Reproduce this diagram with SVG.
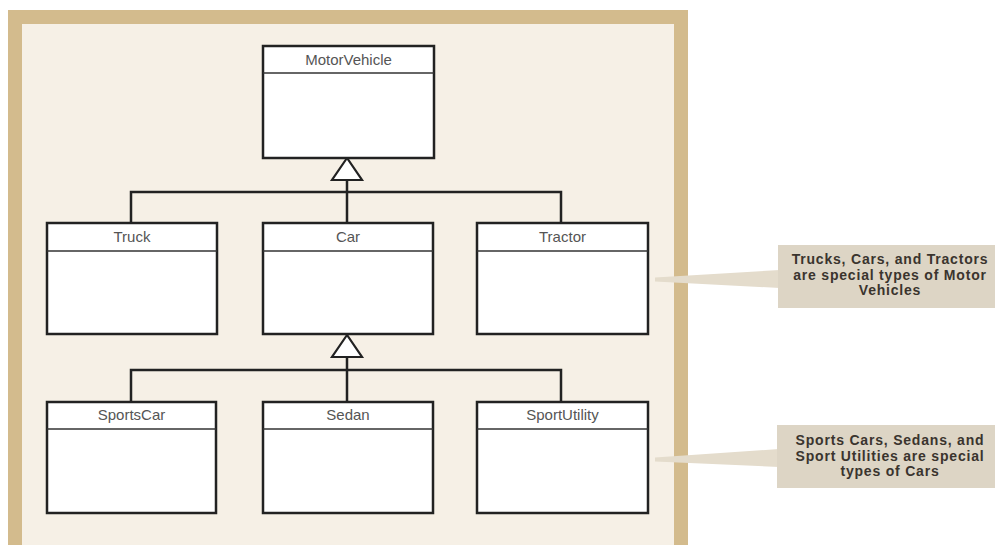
<svg xmlns="http://www.w3.org/2000/svg" width="995" height="545" viewBox="0 0 995 545">
  <style>
    .frame { fill: #f6f0e6; stroke: #d3bb8d; stroke-width: 14; }
    .box { fill: #ffffff; stroke: #222222; stroke-width: 2.5; }
    .divider { stroke: #333333; stroke-width: 1.6; }
    .name { font-family: "Liberation Sans", Arial, sans-serif; font-size: 15px; fill: #555555; text-anchor: middle; }
    .link { fill: none; stroke: #222222; stroke-width: 2.5; }
    .head { fill: #ffffff; stroke: #222222; stroke-width: 2.2; stroke-linejoin: miter; }
    .note { fill: #ddd5c5; }
    .pointer { fill: #e4dccc; }
    .note-text { font-family: "Liberation Sans", Arial, sans-serif; font-size: 14px; font-weight: bold; letter-spacing: 0.8px; fill: #3a342e; text-anchor: middle; }
  </style>

  <rect width="995" height="545" fill="#ffffff"/>
  <!-- outer frame -->
  <rect class="frame" x="15" y="17" width="666" height="535"/>

  <!-- generalisation connectors -->
  <g id="connectors">
    <path class="link" d="M347 180 V192 M131 223 V192 H561 V223 M347 192 V223"/>
    <polygon class="head" points="347,158 332,180 362,180"/>
    <path class="link" d="M347 357 V370 M131 402 V370 H561 V402 M347 370 V402"/>
    <polygon class="head" points="347,335 332,357 362,357"/>
  </g>

  <g id="MotorVehicle">
    <rect class="box" x="263" y="46" width="171" height="112"/>
    <line class="divider" x1="263" y1="73" x2="434" y2="73"/>
    <text class="name" x="348.5" y="65">MotorVehicle</text>
  </g>

  <g id="Truck">
    <rect class="box" x="47" y="223" width="170" height="111"/>
    <line class="divider" x1="47" y1="251" x2="217" y2="251"/>
    <text class="name" x="132" y="242">Truck</text>
  </g>

  <g id="Car">
    <rect class="box" x="263" y="223" width="170" height="111"/>
    <line class="divider" x1="263" y1="251" x2="433" y2="251"/>
    <text class="name" x="348" y="242">Car</text>
  </g>

  <g id="Tractor">
    <rect class="box" x="477" y="223" width="171" height="111"/>
    <line class="divider" x1="477" y1="251" x2="648" y2="251"/>
    <text class="name" x="562.5" y="242">Tractor</text>
  </g>

  <g id="SportsCar">
    <rect class="box" x="47" y="402" width="169" height="111"/>
    <line class="divider" x1="47" y1="429" x2="216" y2="429"/>
    <text class="name" x="131.5" y="420">SportsCar</text>
  </g>

  <g id="Sedan">
    <rect class="box" x="263" y="402" width="170" height="111"/>
    <line class="divider" x1="263" y1="429" x2="433" y2="429"/>
    <text class="name" x="348" y="420">Sedan</text>
  </g>

  <g id="SportUtility">
    <rect class="box" x="477" y="402" width="171" height="111"/>
    <line class="divider" x1="477" y1="429" x2="648" y2="429"/>
    <text class="name" x="562.5" y="420">SportUtility</text>
  </g>

  <!-- callouts -->
  <g id="note-vehicles">
    <polygon class="pointer" points="655,277.5 655,281.5 780,288 780,270"/>
    <rect class="note" x="778" y="245" width="217" height="63"/>
    <text class="note-text" x="890" y="264">Trucks, Cars, and Tractors</text>
    <text class="note-text" x="890" y="279.5">are special types of Motor</text>
    <text class="note-text" x="890" y="295">Vehicles</text>
  </g>

  <g id="note-cars">
    <polygon class="pointer" points="655,457.5 655,461.5 779,467 779,449"/>
    <rect class="note" x="777" y="425" width="218" height="63"/>
    <text class="note-text" x="890" y="445">Sports Cars, Sedans, and</text>
    <text class="note-text" x="890" y="460.5">Sport Utilities are special</text>
    <text class="note-text" x="890" y="476">types of Cars</text>
  </g>
</svg>
